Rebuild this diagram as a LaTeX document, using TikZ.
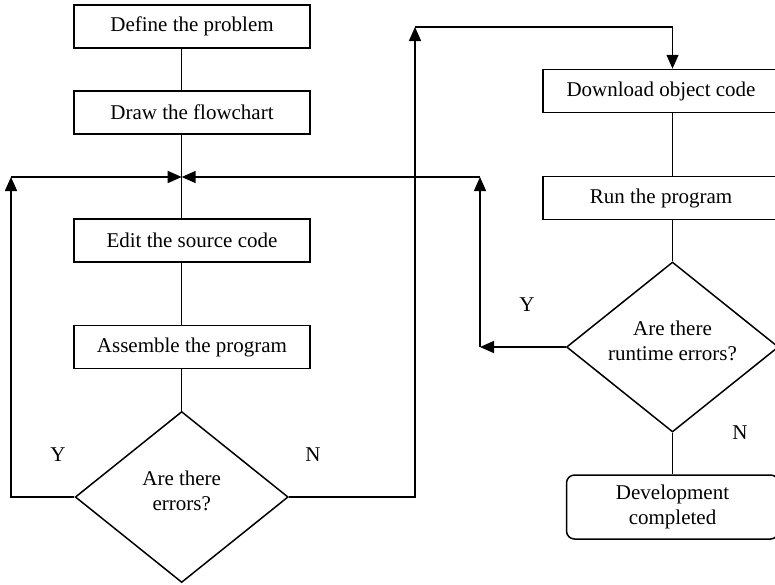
\documentclass[tikz,border=0pt]{standalone}
\usepackage{fontspec}
\setmainfont{Liberation Serif}
\usetikzlibrary{arrows.meta,shapes.geometric}
\begin{document}
\begin{tikzpicture}[x=1pt,y=-1pt,
  line width=1.5pt,
  every node/.style={font=\fontsize{21}{25}\selectfont},
  procbox/.style={draw,rectangle,minimum width=236pt,minimum height=43pt,inner sep=0pt,align=center},
  endbox/.style={draw,rectangle,rounded corners=8pt,minimum width=212pt,minimum height=64pt,inner sep=0pt,align=center},
  decide/.style={draw,diamond,aspect=1.25,minimum width=213pt,minimum height=171pt,inner sep=0pt},
  dtext/.style={inner sep=0pt,align=center,yshift=6pt},
  arr/.style={-{Triangle[length=14pt,width=12pt]}},
  lbl/.style={inner sep=0pt}]
\useasboundingbox (0,0) rectangle (775,584);
% left column
\node[procbox] (define) at (192,26.5) {Define the problem};
\node[procbox] (flow) at (192,112.5) {Draw the flowchart};
\node[procbox] (edit) at (192,240.5) {Edit the source code};
\node[procbox] (asm) at (192,347) {Assemble the program};
\node[decide,label={[dtext]center:Are there\\errors?}] (d1) at (181.7,497) {};
% right column
\node[procbox] (down) at (661,91) {Download object code};
\node[procbox] (run) at (661,198) {Run the program};
\node[decide,minimum width=212pt,minimum height=170pt,label={[dtext]center:Are there\\runtime errors?}] (d2) at (672.5,347) {};
\node[endbox] (dev) at (672.5,507) {Development\\completed};
% junction coordinates
\coordinate (j) at (181.7,177);
\coordinate (lc) at (11,177);
\coordinate (rc) at (480,177);
\coordinate (rl) at (480,347);
\coordinate (nt) at (415,27);
% left column connectors
\draw (d1.north |- define.south) -- (d1.north |- flow.north);
\draw (d1.north |- flow.south) -- (d1.north |- edit.north);
\draw (d1.north |- edit.south) -- (d1.north |- asm.north);
\draw (d1.north |- asm.south) -- (d1.north);
% Y loop
\draw[arr] (d1.west) -| (lc);
\draw[arr] (lc) -- (j);
% N branch
\draw[arr] (d1.east) -| (nt);
\draw[arr] (nt) -| (d2.north |- down.north);
% right column connectors
\draw (d2.north |- down.south) -- (d2.north |- run.north);
\draw (d2.north |- run.south) -- (d2.north);
\draw (d2.south) -- (dev.north);
% runtime error loop
\draw[arr] (d2.west) -- (rl);
\draw[arr] (rl) -- (rc);
\draw[arr] (rc) -- (j);
% labels
\node[lbl] (y1) at (58,455) {Y};
\node[lbl] (n1) at (313,455) {N};
\node[lbl] (y2) at (527,305) {Y};
\node[lbl] (n2) at (740,433) {N};
\end{tikzpicture}
\end{document}
